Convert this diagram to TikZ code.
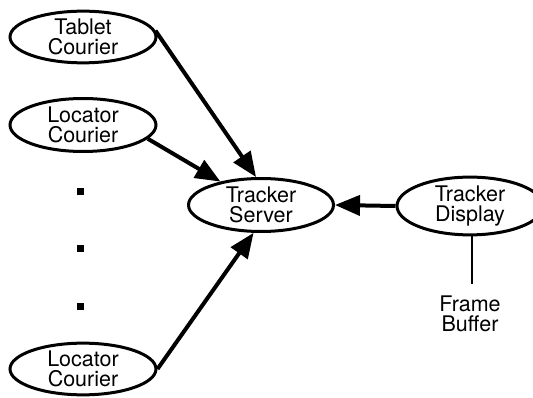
\documentclass[tikz,border=0pt]{standalone}
\usepackage{fontspec}
\setmainfont{TeX Gyre Heros}
\usetikzlibrary{shapes.geometric,arrows.meta}
\begin{document}
\begin{tikzpicture}[x=1pt,y=-1pt,
  proc/.style={ellipse, draw, line width=3pt, minimum width=146pt, minimum height=50pt, inner sep=0pt,
    align=center, font=\fontsize{21.5}{20.5}\selectfont},
  link/.style={line width=4pt, -{Triangle[length=25pt,width=20pt]}},
  dotmark/.style={fill=black, minimum size=7pt, inner sep=0pt},
  plain/.style={line width=2.2pt}]
\useasboundingbox (0,0) rectangle (533,398);
\node[proc] (tc) at (83,37) {Tablet\\Courier};
\node[proc, minimum height=53pt] (lc1) at (83,125) {Locator\\Courier};
\node[proc] (lc2) at (83,369) {Locator\\Courier};
\node[proc, minimum width=145pt, minimum height=53pt] (ts) at (261,205) {Tracker\\Server};
\node[proc, minimum height=54pt] (td) at (470,206) {Tracker\\Display};
\node[align=center, font=\fontsize{21.5}{20.5}\selectfont, inner sep=0pt] (fb) at (470,314) {Frame\\Buffer};
\node[dotmark] (d1) at (80,192) {};
\node[dotmark] (d2) at (80,249) {};
\node[dotmark] (d3) at (80,306) {};
\draw[link] (tc.5) -- (ts.100);
\draw[link] (lc1.-12) -- (ts.150);
\draw[link] (lc2.east) -- (ts.255);
\draw[link] (td.west) -- (ts.east);
\coordinate (fbtop) at (472,284);
\draw[plain] (td.south -| fbtop) -- (fbtop);
\end{tikzpicture}
\end{document}
